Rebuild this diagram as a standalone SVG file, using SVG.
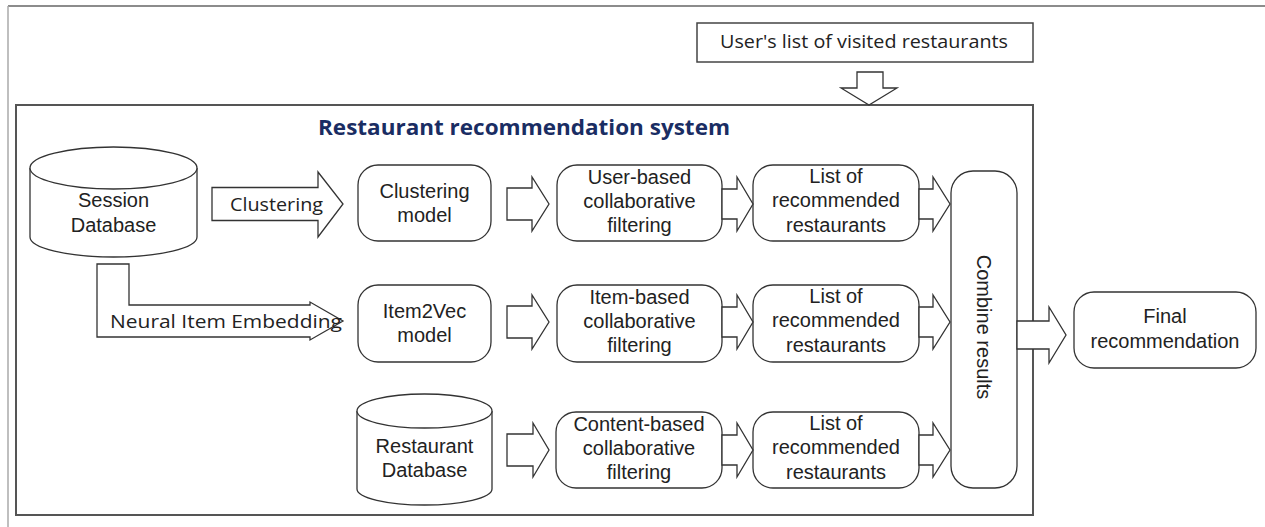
<svg xmlns="http://www.w3.org/2000/svg" width="1265" height="527" viewBox="0 0 1265 527">
  <style>
    .box { fill: #fff; stroke: #333; stroke-width: 1.3; }
    .arrow { fill: #fff; stroke: #333; stroke-width: 1.3; stroke-linejoin: miter; }
    .lbl { font-family: "Liberation Sans", Arial, sans-serif; font-size: 20px; fill: #222; text-anchor: middle; }
    .cal { font-family: "Open Sans", "Noto Sans", sans-serif; font-size: 19px; fill: #222; }
    .title { font-family: "Open Sans", "Noto Sans", sans-serif; font-size: 21px; font-weight: bold; fill: #1a2d63; }
  </style>

  <rect width="1265" height="527" fill="#fff"/>

  <!-- page frame -->
  <line x1="8" y1="6" x2="1265" y2="6" stroke="#666" stroke-width="1.5"/>
  <line x1="8" y1="6" x2="8" y2="527" stroke="#aaa" stroke-width="1.5"/>

  <!-- system boundary -->
  <g id="system">
    <rect x="16" y="105" width="1017" height="410" fill="none" stroke="#555" stroke-width="2"/>
    <text class="title" x="318" y="135" textLength="412" lengthAdjust="spacingAndGlyphs">Restaurant recommendation system</text>
  </g>

  <!-- input list -->
  <g id="user-list">
    <rect x="697" y="23" width="336" height="39" fill="#fff" stroke="#444" stroke-width="1.5"/>
    <text class="cal" x="720" y="48" font-size="18" textLength="288" lengthAdjust="spacingAndGlyphs">User's list of visited restaurants</text>
  </g>

  <!-- session database -->
  <g id="session-db">
    <path class="box" d="M30,168 L30,237 A83.5,20 0 0 0 197,237 L197,168"/>
    <ellipse class="box" cx="113.5" cy="168" rx="83.5" ry="21"/>
    <text class="lbl" x="113.5" y="207">Session</text>
    <text class="lbl" x="113.5" y="232">Database</text>
  </g>

  <!-- restaurant database -->
  <g id="restaurant-db">
    <path class="box" d="M357,411 L357,489 A67.5,16 0 0 0 492,489 L492,411"/>
    <ellipse class="box" cx="424.5" cy="411" rx="67.5" ry="17"/>
    <text class="lbl" x="424.5" y="453">Restaurant</text>
    <text class="lbl" x="424.5" y="477">Database</text>
  </g>

  <!-- models -->
  <g id="clustering-model">
    <rect class="box" x="358" y="165" width="133" height="76" rx="20"/>
    <text class="lbl" x="424.5" y="198">Clustering</text>
    <text class="lbl" x="424.5" y="222">model</text>
  </g>
  <g id="item2vec-model">
    <rect class="box" x="358" y="285" width="133" height="77" rx="20"/>
    <text class="lbl" x="424.5" y="318">Item2Vec</text>
    <text class="lbl" x="424.5" y="342">model</text>
  </g>

  <!-- filtering stages -->
  <g id="user-cf">
    <rect class="box" x="557" y="165" width="165" height="76" rx="20"/>
    <text class="lbl" x="639.5" y="184">User-based</text>
    <text class="lbl" x="639.5" y="208">collaborative</text>
    <text class="lbl" x="639.5" y="232">filtering</text>
  </g>
  <g id="item-cf">
    <rect class="box" x="557" y="285" width="165" height="77" rx="20"/>
    <text class="lbl" x="639.5" y="304">Item-based</text>
    <text class="lbl" x="639.5" y="328">collaborative</text>
    <text class="lbl" x="639.5" y="352">filtering</text>
  </g>
  <g id="content-cf">
    <rect class="box" x="556" y="412" width="166" height="76" rx="20"/>
    <text class="lbl" x="639" y="431">Content-based</text>
    <text class="lbl" x="639" y="455">collaborative</text>
    <text class="lbl" x="639" y="479">filtering</text>
  </g>

  <!-- recommendation lists -->
  <g id="list-1">
    <rect class="box" x="753" y="165" width="166" height="76" rx="20"/>
    <text class="lbl" x="836" y="183">List of</text>
    <text class="lbl" x="836" y="207">recommended</text>
    <text class="lbl" x="836" y="232">restaurants</text>
  </g>
  <g id="list-2">
    <rect class="box" x="753" y="285" width="166" height="77" rx="20"/>
    <text class="lbl" x="836" y="303">List of</text>
    <text class="lbl" x="836" y="327">recommended</text>
    <text class="lbl" x="836" y="352">restaurants</text>
  </g>
  <g id="list-3">
    <rect class="box" x="753" y="412" width="166" height="76" rx="20"/>
    <text class="lbl" x="836" y="430">List of</text>
    <text class="lbl" x="836" y="454">recommended</text>
    <text class="lbl" x="836" y="479">restaurants</text>
  </g>

  <!-- combiner -->
  <g id="combine">
    <rect class="box" x="951" y="171" width="66" height="317" rx="22"/>
    <text class="lbl" transform="translate(977,327) rotate(90)">Combine results</text>
  </g>

  <!-- output -->
  <g id="final">
    <rect class="box" x="1074" y="292" width="182" height="76" rx="20"/>
    <text class="lbl" x="1165" y="323">Final</text>
    <text class="lbl" x="1165" y="348">recommendation</text>
  </g>

  <!-- block arrows -->
  <g id="connectors">
    <!-- user list into system -->
    <path class="arrow" d="M857,72 L883,72 L883,88 L897,88 L869,105 L841,88 L857,88 Z"/>
    <!-- clustering -->
    <path class="arrow" d="M212,187.5 L318,187.5 L318,172 L343,204 L318,237 L318,220.5 L212,220.5 Z"/>
    <text class="cal" x="230" y="211" textLength="93" lengthAdjust="spacingAndGlyphs">Clustering</text>
    <!-- neural item embedding (elbow) -->
    <path class="arrow" d="M97,264 L129,264 L129,305 L310,305 L310,302 L343,321 L310,340 L310,337 L97,337 Z"/>
    <text class="cal" x="110" y="328" textLength="232" lengthAdjust="spacingAndGlyphs">Neural Item Embedding</text>

    <!-- row 1 -->
    <path class="arrow" d="M507,188 L532,188 L532,177 L549,204 L532,231 L532,220 L507,220 Z"/>
    <path class="arrow" d="M722,189 L737,189 L737,177 L753,204 L737,231 L737,219 L722,219 Z"/>
    <path class="arrow" d="M919,189 L933,189 L933,177 L950,204 L933,231 L933,219 L919,219 Z"/>
    <!-- row 2 -->
    <path class="arrow" d="M507,306 L532,306 L532,295 L549,322 L532,349 L532,338 L507,338 Z"/>
    <path class="arrow" d="M722,307 L737,307 L737,295 L753,322 L737,349 L737,337 L722,337 Z"/>
    <path class="arrow" d="M919,307 L933,307 L933,295 L950,322 L933,349 L933,337 L919,337 Z"/>
    <!-- row 3 -->
    <path class="arrow" d="M507,434 L533,434 L533,423 L549,450 L533,477 L533,466 L507,466 Z"/>
    <path class="arrow" d="M722,435 L737,435 L737,423 L753,450 L737,477 L737,465 L722,465 Z"/>
    <path class="arrow" d="M919,435 L933,435 L933,423 L950,450 L933,477 L933,465 L919,465 Z"/>
    <!-- combined output -->
    <path class="arrow" d="M1017,321 L1049,321 L1049,307 L1066,335 L1049,363 L1049,349 L1017,349 Z"/>
  </g>
</svg>
